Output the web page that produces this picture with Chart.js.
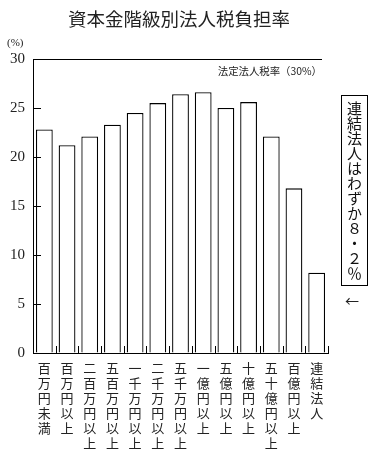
<!DOCTYPE html>
<html><head><meta charset="utf-8">
<script src="https://cdn.jsdelivr.net/npm/chart.js@4.4.0/dist/chart.umd.min.js"></script>
<style>
html,body{margin:0;padding:0;background:#fff;}
#wrap{position:relative;width:385px;height:461px;overflow:hidden;}
canvas{position:absolute;left:0;top:0;}
.t{position:absolute;white-space:nowrap;color:#222;font-family:"Noto Sans CJK JP","Noto Sans",sans-serif;}
#title{left:0;width:358px;top:4px;text-align:center;font-size:18.5px;line-height:28px;}
#pct{left:7px;top:36px;font-size:11px;font-family:"Liberation Serif",serif;}
#law{right:63px;top:63px;font-size:10.4px;line-height:16px;}
#box{left:341px;top:95px;width:27px;height:191px;border:1px solid #000;box-sizing:border-box;writing-mode:vertical-rl;text-orientation:upright;font-size:15px;line-height:25px;padding-top:5px;letter-spacing:0;color:#111;}
#arrow{left:345px;top:291px;font-size:14px;line-height:18px;}
</style></head>
<body>
<div id="wrap">
<canvas id="c" width="385" height="461"></canvas>
<div class="t" id="title">資本金階級別法人税負担率</div>
<div class="t" id="pct">(%)</div>
<div class="t" id="law">法定法人税率（30%）</div>
<div class="t" id="box">連結法人はわずか８・２％</div>
<div class="t" id="arrow">←</div>
</div>
<script>
const categories = ["百万円未満","百万円以上","二百万円以上","五百万円以上","一千万円以上","二千万円以上","五千万円以上","一億円以上","五億円以上","十億円以上","五十億円以上","百億円以上","連結法人"];
const taxRate = [22.8, 21.2, 22.1, 23.3, 24.5, 25.5, 26.4, 26.6, 25.0, 25.6, 22.1, 16.8, 8.2];
const yTicks = [0, 5, 10, 15, 20, 25, 30];
const statutoryRate = 30;

const verticalLabels = categories.map(s => Array.from(s));

const tickPlugin = {
  id: 'innerTicks',
  afterDraw(chart) {
    const ctx = chart.ctx;
    const y = chart.scales.y;
    const ca = chart.chartArea;
    ctx.save();
    ctx.strokeStyle = '#000';
    ctx.lineWidth = 1;
    yTicks.forEach(v => {
      if (v === 0 || v === statutoryRate) return;
      const py = Math.round(y.getPixelForValue(v)) + 0.5;
      ctx.beginPath(); ctx.moveTo(ca.left, py); ctx.lineTo(ca.left + 8, py); ctx.stroke();
    });
    const n = categories.length;
    const w = (ca.right - ca.left) / n;
    for (let i = 1; i <= n; i++) {
      const px = Math.round(ca.left + i * w) + 0.5;
      ctx.beginPath(); ctx.moveTo(px, ca.bottom); ctx.lineTo(px, ca.bottom - 7); ctx.stroke();
    }
    const py = Math.round(y.getPixelForValue(statutoryRate)) + 0.5;
    ctx.beginPath(); ctx.moveTo(ca.left, py); ctx.lineTo(ca.right - 6, py); ctx.stroke();
    ctx.restore();
  }
};

new Chart(document.getElementById('c'), {
  type: 'bar',
  data: {
    labels: verticalLabels,
    datasets: [{
      data: taxRate,
      backgroundColor: '#fff',
      borderColor: '#000',
      borderWidth: 1.3,
      borderSkipped: 'bottom',
      barPercentage: 0.74,
      categoryPercentage: 1.0
    }]
  },
  options: {
    responsive: false,
    devicePixelRatio: 1,
    animation: false,
    layout: { padding: { top: 59, right: 57, bottom: 0, left: 0 } },
    plugins: { legend: { display: false }, tooltip: { enabled: false }, title: { display: false } },
    scales: {
      x: {
        grid: { color: 'transparent', drawTicks: false },
        border: { display: true, color: '#000', width: 1 },
        ticks: {
          autoSkip: false, maxRotation: 0, minRotation: 0, padding: 8,
          color: '#222',
          font: { family: '"Noto Sans CJK JP", sans-serif', size: 13, lineHeight: '15px' }
        },
        afterFit(s) { s.height = 108; }
      },
      y: {
        min: 0, max: 30,
        grid: { color: 'transparent', drawTicks: false },
        border: { display: true, color: '#000', width: 1 },
        ticks: {
          stepSize: 5, padding: 8, color: '#222',
          font: { family: '"Liberation Serif", serif', size: 15 }
        },
        afterFit(s) { s.width = 33; }
      }
    }
  },
  plugins: [tickPlugin]
});
</script>
</body></html>
